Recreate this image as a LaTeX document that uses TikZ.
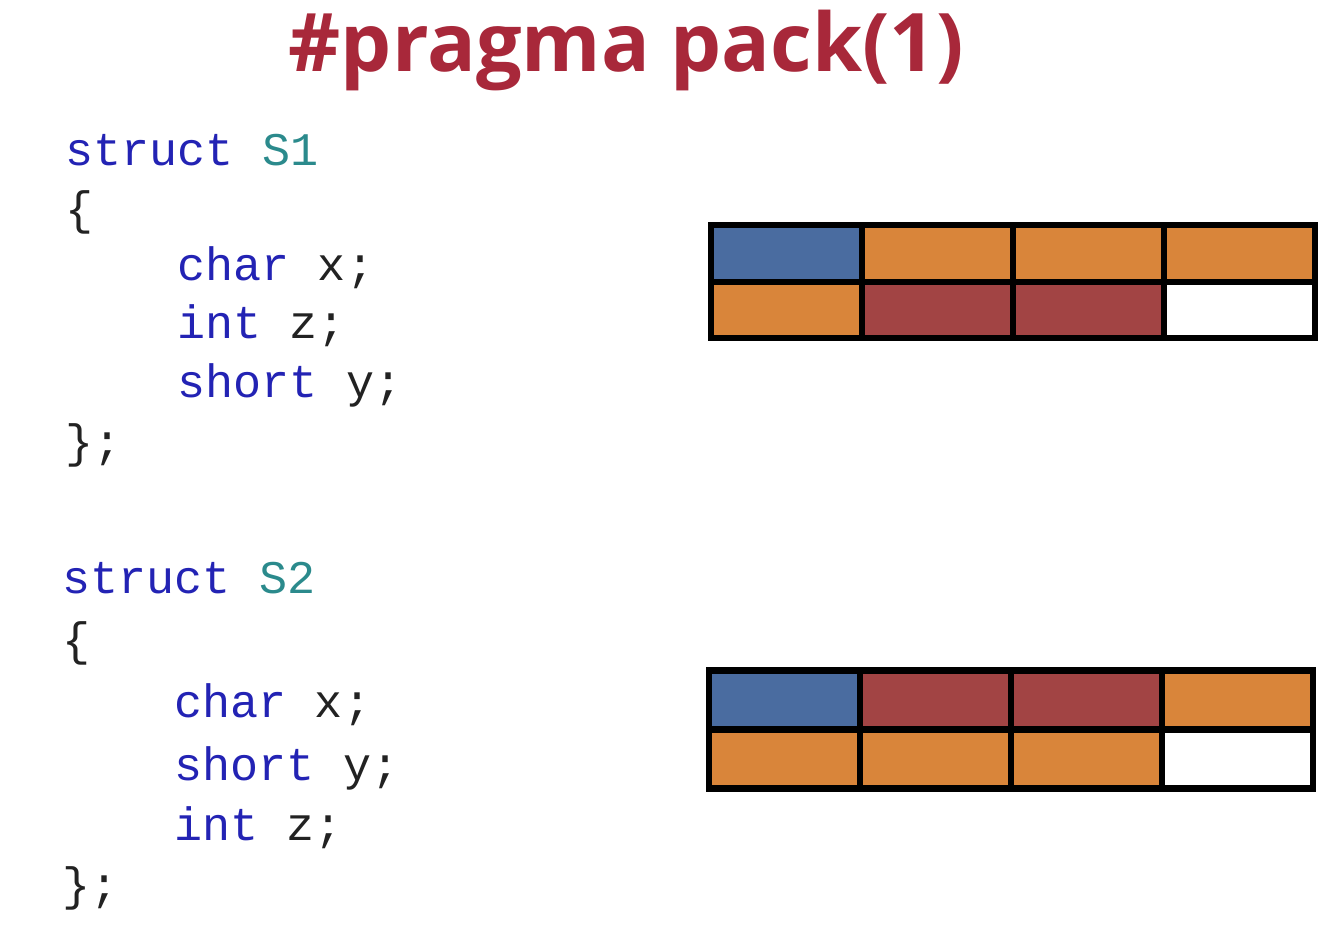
\documentclass[tikz,border=0pt]{standalone}
\usepackage{fontspec}
\setmainfont{Open Sans}
\setmonofont{Liberation Mono}
\usetikzlibrary{shapes, arrows}

\definecolor{titlered}{HTML}{A8283A}
\definecolor{kwblue}{HTML}{2323B4}
\definecolor{typeteal}{HTML}{2B8A8C}
\definecolor{codeblack}{HTML}{222222}
\definecolor{cellblue}{HTML}{4A6CA0}
\definecolor{cellorange}{HTML}{D9853A}
\definecolor{cellred}{HTML}{A24444}

\begin{document}
\begin{tikzpicture}

\tikzstyle{title} = [anchor=base west, inner sep=0, text=titlered, font=\fontsize{23}{27}\selectfont\bfseries]
\tikzstyle{code} = [anchor=base west, inner sep=0, text=codeblack, font=\ttfamily\fontsize{13.3}{16}\selectfont]
\tikzstyle{cell} = [rectangle, draw, line width=1.8pt, minimum width=1.51cm, minimum height=0.565cm, inner sep=0, node distance=1.51cm]

\useasboundingbox (0,0) rectangle (13.31,-9.31);

\node (title) [title] at (2.88,-0.71) {\#pragma pack(1)};

% struct S1
\node (s1head) [code] at (0.65,-1.65) {\textcolor{kwblue}{struct} \textcolor{typeteal}{S1}};
\node (s1open) [code] at (0.65,-2.24) {\{};
\node (s1x) [code] at (1.77,-2.80) {\textcolor{kwblue}{char} x;};
\node (s1z) [code] at (1.77,-3.38) {\textcolor{kwblue}{int} z;};
\node (s1y) [code] at (1.77,-3.97) {\textcolor{kwblue}{short} y;};
\node (s1close) [code] at (0.65,-4.57) {\};};

% struct S2
\node (s2head) [code] at (0.62,-5.93) {\textcolor{kwblue}{struct} \textcolor{typeteal}{S2}};
\node (s2open) [code] at (0.62,-6.55) {\{};
\node (s2x) [code] at (1.74,-7.17) {\textcolor{kwblue}{char} x;};
\node (s2y) [code] at (1.74,-7.80) {\textcolor{kwblue}{short} y;};
\node (s2z) [code] at (1.74,-8.40) {\textcolor{kwblue}{int} z;};
\node (s2close) [code] at (0.62,-9.00) {\};};

% layout of S1
\node (a1) [cell, fill=cellblue] at (7.865,-2.535) {};
\node (a2) [cell, fill=cellorange, right of=a1] {};
\node (a3) [cell, fill=cellorange, right of=a2] {};
\node (a4) [cell, fill=cellorange, right of=a3] {};
\node (b1) [cell, fill=cellorange, node distance=0.565cm, below of=a1] {};
\node (b2) [cell, fill=cellred, right of=b1] {};
\node (b3) [cell, fill=cellred, right of=b2] {};
\node (b4) [cell, fill=white, right of=b3] {};

% layout of S2
\begin{scope}[cell/.append style={minimum height=0.59cm}]
\node (c1) [cell, fill=cellblue] at (7.845,-7.0) {};
\node (c2) [cell, fill=cellred, right of=c1] {};
\node (c3) [cell, fill=cellred, right of=c2] {};
\node (c4) [cell, fill=cellorange, right of=c3] {};
\node (d1) [cell, fill=cellorange, node distance=0.59cm, below of=c1] {};
\node (d2) [cell, fill=cellorange, right of=d1] {};
\node (d3) [cell, fill=cellorange, right of=d2] {};
\node (d4) [cell, fill=white, right of=d3] {};
\end{scope}

\end{tikzpicture}
\end{document}
